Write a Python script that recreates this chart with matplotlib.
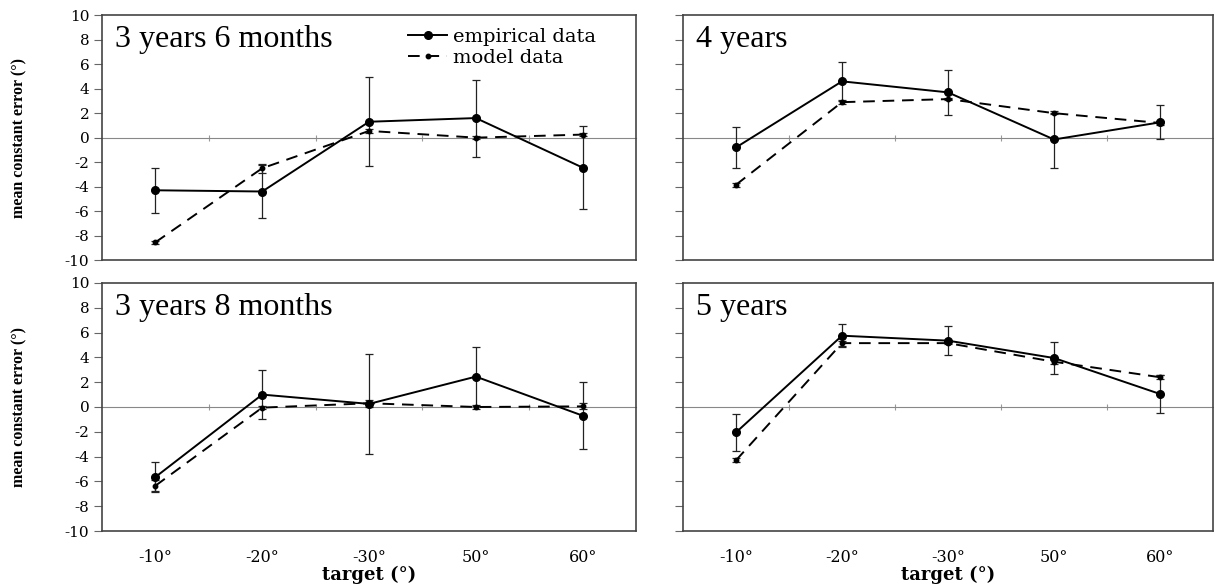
import matplotlib
matplotlib.use('Agg')
import matplotlib.pyplot as plt
import numpy as np

plt.rcParams['axes.unicode_minus'] = False

# Datos
targets = ['-10°', '-20°', '-30°', '50°', '60°']

emp_3y6m = [-4.3, -4.4, 1.3, 1.6, -2.45]
emp_3y6m_err = [1.85, 2.2, 3.65, 3.15, 3.4]
mod_3y6m = [-8.55, -2.5, 0.55, 0.0, 0.25]
mod_3y6m_err = [0.1, 0.35, 0.15, 0.1, 0.15]

emp_4y = [-0.8, 4.6, 3.7, -0.15, 1.25]
emp_4y_err = [1.65, 1.6, 1.85, 2.3, 1.4]
mod_4y = [-3.85, 2.9, 3.15, 2.0, 1.2]
mod_4y_err = [0.15, 0.15, 0.1, 0.05, 0.2]

emp_3y8m = [-5.65, 1.0, 0.25, 2.45, -0.7]
emp_3y8m_err = [1.2, 2.0, 4.05, 2.4, 2.7]
mod_3y8m = [-6.35, -0.05, 0.3, 0.0, 0.05]
mod_3y8m_err = [0.45, 0.1, 0.3, 0.2, 0.25]

emp_5y = [-2.05, 5.75, 5.35, 3.95, 1.05]
emp_5y_err = [1.5, 0.95, 1.15, 1.3, 1.55]
mod_5y = [-4.3, 5.15, 5.15, 3.65, 2.4]
mod_5y_err = [0.15, 0.2, 0.1, 0.15, 0.15]

titulos = ['3 years 6 months', '4 years', '3 years 8 months', '5 years']

fig = plt.figure(figsize=(12.14, 5.87), dpi=100)

# posiciones de los paneles (izq, abajo, ancho, alto)
pos = [
    [0.084, 0.557, 0.440, 0.417],
    [0.5626, 0.557, 0.4366, 0.417],
    [0.084, 0.0954, 0.440, 0.4225],
    [0.5626, 0.0954, 0.4366, 0.4225],
]
datos = [
    (emp_3y6m, emp_3y6m_err, mod_3y6m, mod_3y6m_err),
    (emp_4y, emp_4y_err, mod_4y, mod_4y_err),
    (emp_3y8m, emp_3y8m_err, mod_3y8m, mod_3y8m_err),
    (emp_5y, emp_5y_err, mod_5y, mod_5y_err),
]

x = np.arange(len(targets))
tick_font = dict(family='DejaVu Serif', size=11.5)

for i in range(4):
    ax = fig.add_axes(pos[i])
    emp, emp_err, mod, mod_err = datos[i]

    # barras de error
    ax.errorbar(x, emp, yerr=emp_err, fmt='none', ecolor='#222222',
                elinewidth=0.9, capsize=3, capthick=0.9, zorder=3)
    ax.errorbar(x, mod, yerr=mod_err, fmt='none', ecolor='#222222',
                elinewidth=0.9, capsize=3, capthick=0.9, zorder=3)

    # lineas
    l1, = ax.plot(x, emp, '-o', color='black', lw=1.4, ms=5.5, zorder=4,
                  label='empirical data')
    l2, = ax.plot(x, mod, '--o', color='black', lw=1.4, ms=3.2, zorder=4,
                  dashes=(6, 4), label='model data')

    ax.set_xlim(-0.5, 4.5)
    ax.set_ylim(-10, 10)
    ax.set_yticks(np.arange(-10, 11, 2))

    # eje de categorias en y = 0
    sec = ax.secondary_xaxis(0.5)
    sec.set_xticks(np.arange(0.5, 4.5, 1.0))
    sec.tick_params(direction='inout', length=5, width=0.8, color='#999999',
                    labelbottom=False, labeltop=False)
    for s in ['bottom', 'top']:
        sec.spines[s].set_color('#888888')
        sec.spines[s].set_linewidth(0.8)

    ax.set_xticks(x)
    ax.tick_params(axis='x', length=0, pad=13)
    ax.tick_params(axis='y', direction='out', length=6, width=0.8,
                   color='#666666', pad=3)
    for sp in ax.spines.values():
        sp.set_color('#444444')
        sp.set_linewidth(1.2)

    if i >= 2:
        ax.set_xticklabels(targets, fontdict=tick_font)
        ax.set_xlabel('target (°)', family='DejaVu Serif', weight='bold',
                      size=13, labelpad=0)
    else:
        ax.set_xticklabels([])
    if i % 2 == 0:
        for lab in ax.get_yticklabels():
            lab.set_family('DejaVu Serif')
            lab.set_size(11)
    else:
        ax.set_yticklabels([])

    ax.text(0.024, 0.87, titulos[i], transform=ax.transAxes,
            family='Liberation Serif', size=23, va='baseline', ha='left')

    if i == 0:
        ax.legend(handles=[l1, l2], loc='upper left',
                  bbox_to_anchor=(0.55, 1.0), frameon=False,
                  prop=dict(family='DejaVu Serif', size=14),
                  handlelength=2.0, handletextpad=0.3, labelspacing=0.15,
                  borderpad=0.15)

# etiquetas del eje y
for yc in [0.557 + 0.417 / 2, 0.0954 + 0.4225 / 2]:
    fig.text(0.016, yc, 'mean constant error (°)', rotation=90,
             family='Liberation Serif', weight='bold', size=11.5,
             ha='center', va='center')

fig.savefig('out.png', dpi=100)
